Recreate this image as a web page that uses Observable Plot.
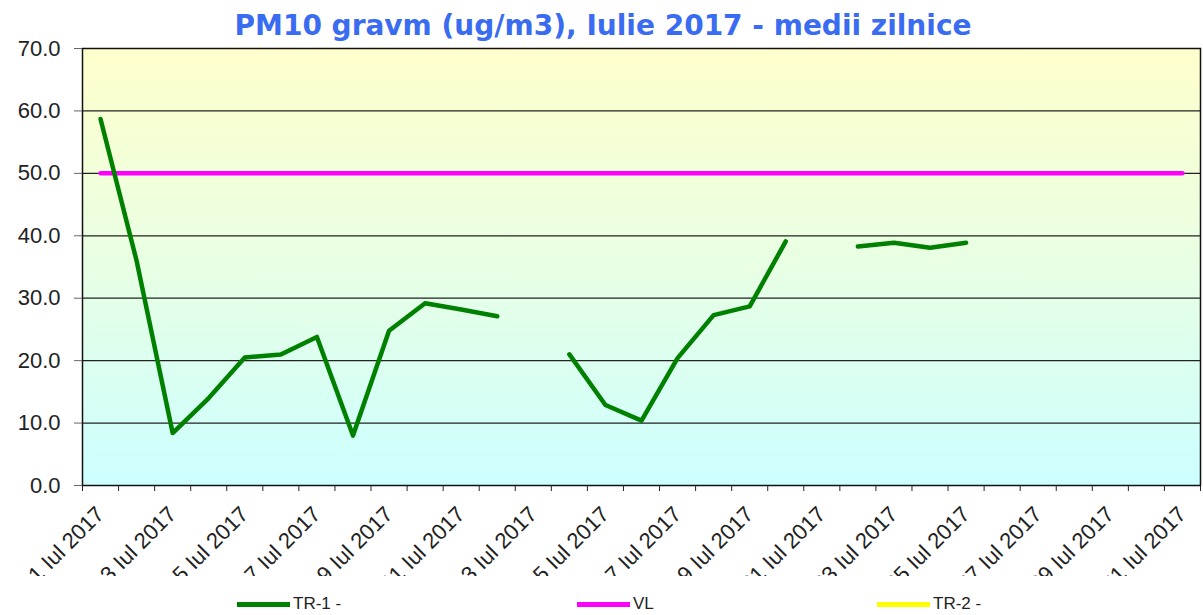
<!DOCTYPE html>
<html><head><meta charset="utf-8">
<script src="https://cdn.jsdelivr.net/npm/d3@7"></script>
<script src="https://cdn.jsdelivr.net/npm/@observablehq/plot@0.6"></script>
<style>
body{margin:0;background:#fff;}
#wrap{position:relative;width:1203px;height:615px;overflow:hidden;font-family:"Liberation Sans",Arial,sans-serif;}
#title{position:absolute;left:0;top:9px;width:1206px;text-align:center;font:bold 28px "DejaVu Sans",Verdana,sans-serif;color:#3a6cf2;white-space:nowrap;}
#chart{position:absolute;left:0;top:0;}
.leg{position:absolute;top:595px;font-size:17px;color:#222;display:flex;align-items:center;height:18px;}
.leg .sw{display:inline-block;width:53px;height:5px;margin-right:3px;}
</style></head>
<body><div id="wrap"><div id="chart"></div><div id="title">PM10 gravm (ug/m3), Iulie 2017 - medii zilnice</div><div id="legend"></div></div>
<script>
const days = [1,2,3,4,5,6,7,8,9,10,11,12,13,14,15,16,17,18,19,20,21,22,23,24,25,26,27,28,29,30,31];
const tr1 = [58.7,36.0,8.4,14.0,20.5,21.0,23.8,8.0,24.8,29.2,28.2,27.1,null,21.0,12.9,10.4,20.4,27.3,28.7,39.1,null,38.3,38.9,38.1,38.9,null,null,null,null,null,null];
const vl = [50,50,50,50,50,50,50,50,50,50,50,50,50,50,50,50,50,50,50,50,50,50,50,50,50,50,50,50,50,50,50];
const tr2 = [null,null,null,null,null,null,null,null,null,null,null,null,null,null,null,null,null,null,null,null,null,null,null,null,null,null,null,null,null,null,null];
const yTicks = [0,10,20,30,40,50,60,70];
const gridTicks = [10,20,30,40,50,60];
const labelDays = [1,3,5,7,9,11,13,15,17,19,21,23,25,27,29,31];
const monthLabel = "Iul 2017";
const seriesNames = ["TR-1 -","VL","TR-2 -"];
const seriesColors = ["#008000","#ff00ff","#ffff00"];

const rows = days.map((d,i)=>({day:d, tr1:tr1[i], vl:vl[i], tr2:tr2[i]}));
const bounds = days.map(d=>d-0.5).concat([days[days.length-1]+0.5]);

const svg = Plot.plot({
  width:1203, height:576,
  marginTop:48, marginBottom:91, marginLeft:82, marginRight:3,
  style:{fontFamily:'"Liberation Sans", Arial, sans-serif', color:"#222", overflow:"hidden", background:"transparent"},
  x:{domain:[0.5,31.5], axis:null},
  y:{domain:[0,70], axis:null},
  marks:[
    Plot.frame({fill:"url(#bgGrad)", stroke:null}),
    Plot.ruleY(gridTicks, {stroke:"#222", strokeWidth:1.2}),
    Plot.frame({stroke:"#111", strokeWidth:1.5}),
    Plot.axisY({ticks:yTicks, tickFormat:d=>d.toFixed(1), tickSize:8, tickPadding:14, fontSize:22, label:null, stroke:"#666"}),
    Plot.axisX({ticks:bounds, tickSize:6, tickFormat:()=>"", label:null, stroke:"#222"}),
    Plot.axisX({ticks:labelDays, tickSize:0, tickPadding:25, tickRotate:-45, fontSize:22, label:null, tickFormat:d=>`${d} ${monthLabel}`}),
    Plot.line(rows, {x:"day", y:"tr2", stroke:seriesColors[2], strokeWidth:4.5}),
    Plot.line(rows, {x:"day", y:"vl", stroke:seriesColors[1], strokeWidth:4.5}),
    Plot.line(rows, {x:"day", y:"tr1", stroke:seriesColors[0], strokeWidth:4.5, strokeLinejoin:"round"})
  ]
});
svg.insertAdjacentHTML("afterbegin", '<defs><linearGradient id="bgGrad" x1="0" y1="0" x2="0" y2="1"><stop offset="0" stop-color="#ffffcc"/><stop offset="0.5" stop-color="#e8ffe4"/><stop offset="1" stop-color="#ccffff"/></linearGradient></defs>');
document.getElementById("chart").appendChild(svg);

const legX = [237,577,877];
const leg = document.getElementById("legend");
seriesNames.forEach((n,i)=>{
  const el = document.createElement("div");
  el.className="leg";
  el.style.left = legX[i]+"px";
  el.innerHTML = `<span class="sw" style="background:${seriesColors[i]}"></span><span>${n}</span>`;
  leg.appendChild(el);
});
</script></body></html>
